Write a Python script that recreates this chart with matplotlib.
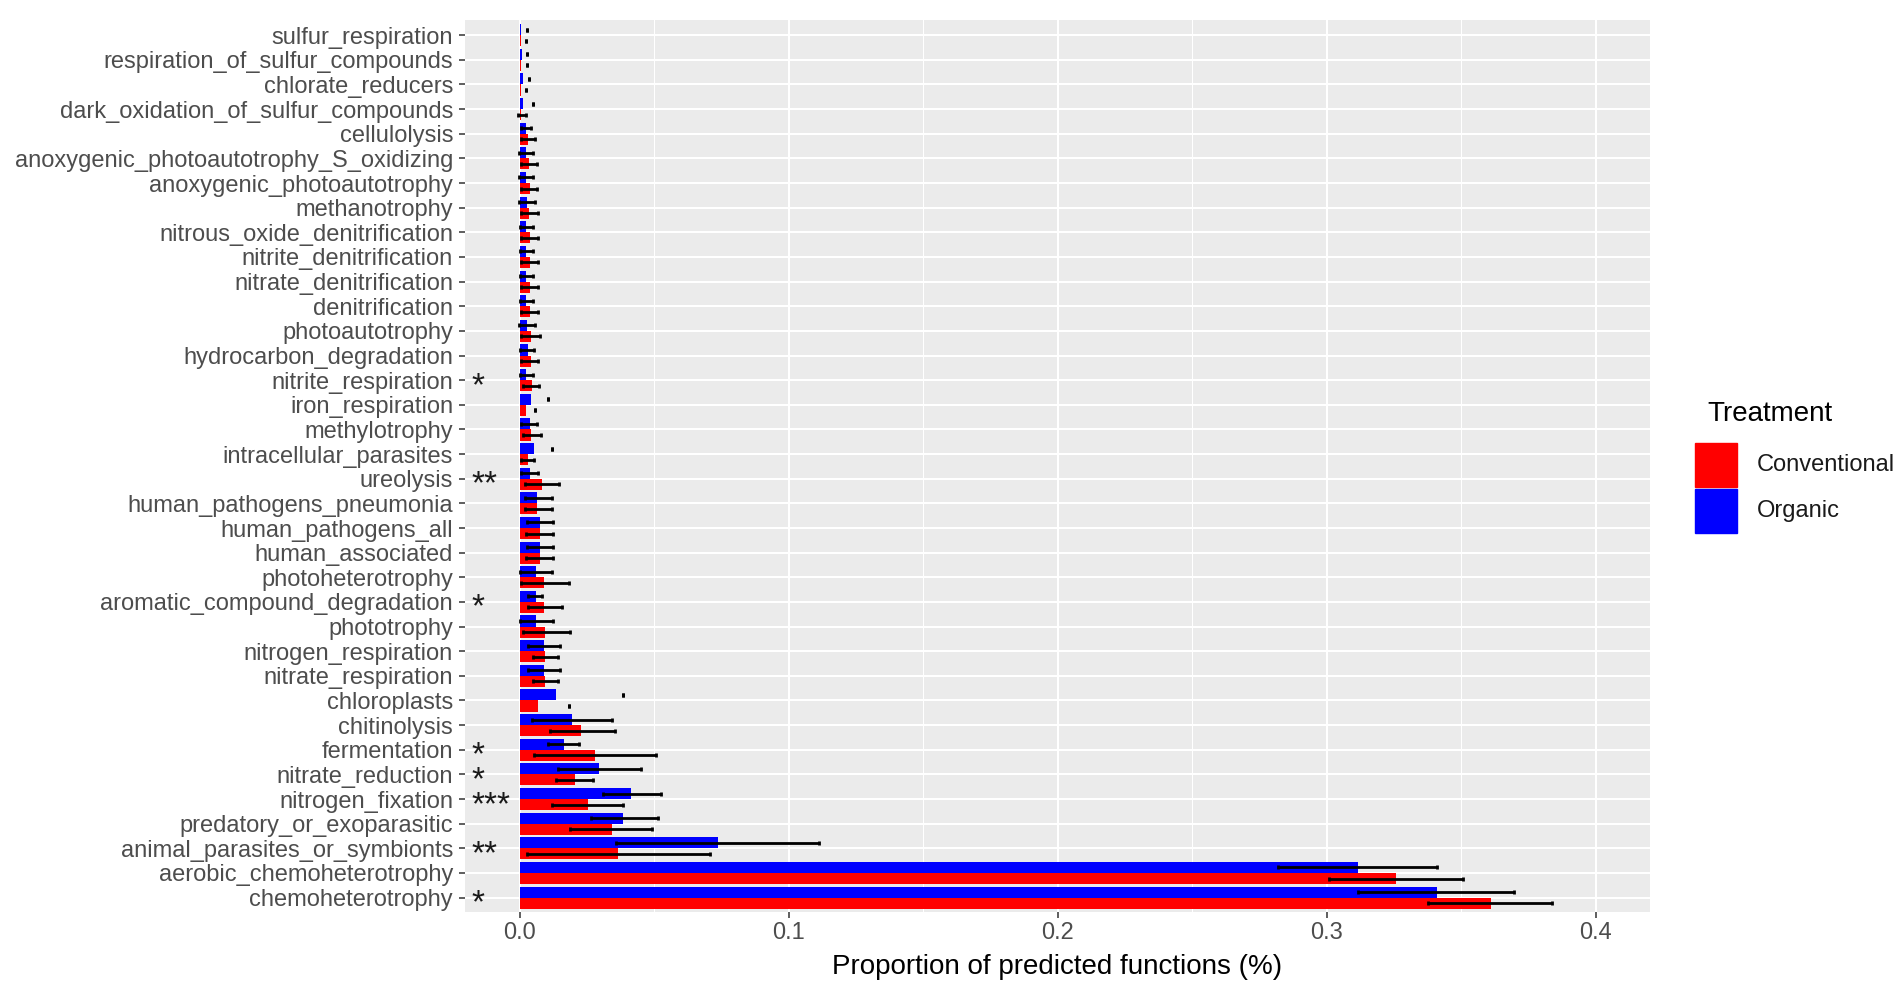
import matplotlib.pyplot as plt
from matplotlib.patches import Rectangle
import numpy as np

plt.rcParams['font.family'] = ['Liberation Sans', 'DejaVu Sans']

# functions listed top to bottom
functions = [
    "sulfur_respiration", "respiration_of_sulfur_compounds", "chlorate_reducers",
    "dark_oxidation_of_sulfur_compounds", "cellulolysis",
    "anoxygenic_photoautotrophy_S_oxidizing", "anoxygenic_photoautotrophy",
    "methanotrophy", "nitrous_oxide_denitrification", "nitrite_denitrification",
    "nitrate_denitrification", "denitrification", "photoautotrophy",
    "hydrocarbon_degradation", "nitrite_respiration", "iron_respiration",
    "methylotrophy", "intracellular_parasites", "ureolysis",
    "human_pathogens_pneumonia", "human_pathogens_all", "human_associated",
    "photoheterotrophy", "aromatic_compound_degradation", "phototrophy",
    "nitrogen_respiration", "nitrate_respiration", "chloroplasts", "chitinolysis",
    "fermentation", "nitrate_reduction", "nitrogen_fixation",
    "predatory_or_exoparasitic", "animal_parasites_or_symbionts",
    "aerobic_chemoheterotrophy", "chemoheterotrophy",
]

conventional = [
    0.0004, 0.0004, 0.0006, 0.0004, 0.0029, 0.0035, 0.0037, 0.0035, 0.0037, 0.0037,
    0.0037, 0.0037, 0.0040, 0.0040, 0.0046, 0.0022, 0.0043, 0.0029, 0.0083, 0.0064,
    0.0074, 0.0074, 0.0089, 0.0089, 0.0095, 0.0095, 0.0095, 0.0067, 0.0229, 0.0281,
    0.0206, 0.0252, 0.0341, 0.0364, 0.3255, 0.3610,
]
organic = [
    0.0006, 0.0007, 0.0012, 0.0012, 0.0022, 0.0021, 0.0021, 0.0025, 0.0022, 0.0022,
    0.0022, 0.0022, 0.0027, 0.0029, 0.0021, 0.0043, 0.0037, 0.0052, 0.0037, 0.0064,
    0.0074, 0.0074, 0.0059, 0.0059, 0.0059, 0.0089, 0.0089, 0.0134, 0.0192, 0.0164,
    0.0295, 0.0413, 0.0384, 0.0737, 0.3114, 0.3410,
]

# error bar extents (as drawn in the original figure)
conv_lo = [
    0.0021, 0.0025, 0.0021, -0.0006, 0.0006, 0.0006, 0.0006, 0.0006, 0.0006, 0.0006,
    0.0006, 0.0006, 0.0006, 0.0006, 0.0012, 0.0056, 0.0012, 0.0006, 0.0019, 0.0019,
    0.0021, 0.0021, 0.0006, 0.0029, 0.0010, 0.0047, 0.0047, 0.0182, 0.0113, 0.0053,
    0.0136, 0.0121, 0.0188, 0.0027, 0.3007, 0.3375,
]
conv_hi = [
    0.0021, 0.0025, 0.0021, 0.0021, 0.0056, 0.0064, 0.0064, 0.0068, 0.0066, 0.0066,
    0.0066, 0.0066, 0.0074, 0.0066, 0.0071, 0.0056, 0.0077, 0.0053, 0.0145, 0.0121,
    0.0124, 0.0124, 0.0182, 0.0155, 0.0186, 0.0143, 0.0140, 0.0182, 0.0352, 0.0506,
    0.0273, 0.0384, 0.0490, 0.0706, 0.3506, 0.3837,
]
org_lo = [
    0.0025, 0.0027, 0.0035, 0.0050, 0.0006, -0.0002, -0.0002, -0.0002, 0.0000, 0.0000,
    0.0000, 0.0000, -0.0002, 0.0000, 0.0000, 0.0104, 0.0006, 0.0118, 0.0006, 0.0019,
    0.0025, 0.0025, 0.0000, 0.0031, 0.0000, 0.0029, 0.0029, 0.0382, 0.0045, 0.0105,
    0.0142, 0.0310, 0.0263, 0.0359, 0.2818, 0.3115,
]
org_hi = [
    0.0025, 0.0027, 0.0035, 0.0050, 0.0043, 0.0050, 0.0050, 0.0056, 0.0050, 0.0050,
    0.0050, 0.0050, 0.0056, 0.0053, 0.0050, 0.0104, 0.0064, 0.0118, 0.0066, 0.0120,
    0.0123, 0.0123, 0.0118, 0.0084, 0.0124, 0.0149, 0.0149, 0.0382, 0.0341, 0.0221,
    0.0449, 0.0523, 0.0514, 0.1112, 0.3411, 0.3695,
]

significance = {
    "nitrite_respiration": "*", "ureolysis": "**",
    "aromatic_compound_degradation": "*", "fermentation": "*",
    "nitrate_reduction": "*", "nitrogen_fixation": "***",
    "animal_parasites_or_symbionts": "**", "chemoheterotrophy": "*",
}

RED = "#FF0000"
BLUE = "#0000FF"

fig = plt.figure(figsize=(19.02, 9.97), dpi=100)
ax = fig.add_axes([465 / 1902, 1 - 912.4 / 997, 1185 / 1902, 892 / 997])
ax.set_facecolor("#EBEBEB")

y = np.arange(len(functions))
h = 0.45
ax.barh(y - h / 2, organic, height=h, color=BLUE, zorder=2)
ax.barh(y + h / 2, conventional, height=h, color=RED, zorder=2)

c_lo, c_hi = np.array(conv_lo), np.array(conv_hi)
o_lo, o_hi = np.array(org_lo), np.array(org_hi)
ax.errorbar((o_lo + o_hi) / 2, y - h / 2, xerr=(o_hi - o_lo) / 2, fmt="none",
            ecolor="black", elinewidth=2, capsize=1.6, capthick=2, zorder=3)
ax.errorbar((c_lo + c_hi) / 2, y + h / 2, xerr=(c_hi - c_lo) / 2, fmt="none",
            ecolor="black", elinewidth=2, capsize=1.6, capthick=2, zorder=3)

# asterisks sit high in the font box, so anchor on baseline and shift down
for i, name in enumerate(functions):
    if name in significance:
        ax.text(-0.0180, i + 0.60, significance[name], ha="left", va="baseline",
                fontsize=24, color="#1a1a1a", zorder=4)

ax.set_xlim(-0.0204, 0.4201)
ax.set_ylim(len(functions) - 0.4, -0.6)
ax.set_yticks(y)
ax.set_yticklabels(functions)
ax.set_xticks([0, 0.1, 0.2, 0.3, 0.4])
ax.set_xticklabels(["0.0", "0.1", "0.2", "0.3", "0.4"])
ax.set_xticks([0.05, 0.15, 0.25, 0.35], minor=True)

ax.set_axisbelow(True)
ax.grid(which="major", color="white", linewidth=1.5)
ax.grid(which="minor", axis="x", color="white", linewidth=0.75)
for s in ax.spines.values():
    s.set_visible(False)
ax.tick_params(which="major", length=4.1, width=1.1, color="#333333",
               labelcolor="#4D4D4D", labelsize=17, pad=3)
ax.tick_params(axis="y", which="major", pad=4.5)
ax.tick_params(which="minor", length=0)

ax.set_xlabel("Proportion of predicted functions (%)", fontsize=20, color="black",
              labelpad=7)

# legend
fig.text(1707 / 1902, 1 - 414 / 997, "Treatment", fontsize=20, ha="left", va="center")
for k, (lab, col) in enumerate([("Conventional", RED), ("Organic", BLUE)]):
    top = 443 + k * 46
    fig.add_artist(Rectangle((1695 / 1902, 1 - (top + 44) / 997), 42 / 1902, 44 / 997,
                             transform=fig.transFigure, color=col))
    fig.text(1757 / 1902, 1 - (top + 22) / 997, lab, fontsize=17, ha="left",
             va="center", color="#1a1a1a")

fig.savefig("out.png", dpi=100)
